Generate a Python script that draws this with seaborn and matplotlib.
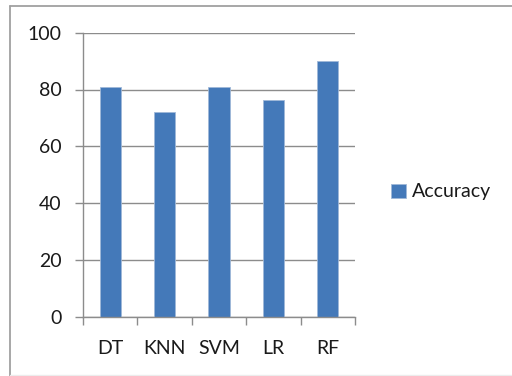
import matplotlib
matplotlib.use("Agg")
import matplotlib.pyplot as plt
from matplotlib.lines import Line2D
import seaborn as sns
import pandas as pd

models = ["DT", "KNN", "SVM", "LR", "RF"]
accuracy = [81, 72.2, 81, 76.3, 90]
y_ticks = [0, 20, 40, 60, 80, 100]

df = pd.DataFrame({"Model": models, "Accuracy": accuracy})

sns.set_theme(style="white")
plt.rcParams["font.family"] = ["Lato", "DejaVu Sans"]

grey = "#8c8c8c"
blue = "#4479b9"
text_col = "#1a1a1a"
fs = 14

fig = plt.figure(figsize=(5.12, 3.76), dpi=100)
ax = fig.add_axes([83 / 512, 59.3 / 376, 272 / 512, 284 / 376])

sns.barplot(data=df, x="Model", y="Accuracy", color=blue, width=0.39,
            saturation=1, label="Accuracy", ax=ax, edgecolor="#9fb8d8",
            linewidth=0.6)

ax.set_xlim(-0.5, len(models) - 0.5)
ax.set_ylim(0, 100)
ax.set_yticks(y_ticks)
ax.set_yticklabels([str(t) for t in y_ticks])
ax.set_xlabel("")
ax.set_ylabel("")

ax.yaxis.grid(True, color=grey, linewidth=1.0)
ax.set_axisbelow(True)
for side in ("top", "right"):
    ax.spines[side].set_visible(False)
for side in ("left", "bottom"):
    ax.spines[side].set_color(grey)
    ax.spines[side].set_linewidth(1.0)

ax.tick_params(axis="y", which="major", length=5.5, color=grey, width=1.0,
               labelsize=fs, labelcolor=text_col, pad=10, left=True)
ax.tick_params(axis="x", which="major", length=0, labelsize=fs,
               labelcolor=text_col, pad=16.5)
ax.set_xticks([i - 0.5 for i in range(len(models) + 1)], minor=True)
ax.tick_params(axis="x", which="minor", length=5.5, color=grey, width=1.0,
               bottom=True)

leg = ax.legend(loc="center left", bbox_to_anchor=(391 / 512, 1 - 192 / 376),
                bbox_transform=fig.transFigure, frameon=False, fontsize=fs,
                handlelength=0.75, handleheight=0.75, handletextpad=0.35,
                borderaxespad=0, borderpad=0)
for t in leg.get_texts():
    t.set_color(text_col)

# outer chart frame: left and top edges, faint bottom edge
fig.add_artist(Line2D([10 / 512, 10 / 512], [0, 1 - 6 / 376],
                      transform=fig.transFigure, color="#a0a0a0", lw=1.3))
fig.add_artist(Line2D([10 / 512, 1], [1 - 6 / 376, 1 - 6 / 376],
                      transform=fig.transFigure, color="#a0a0a0", lw=1.3))
fig.add_artist(Line2D([10 / 512, 1], [1 / 376, 1 / 376],
                      transform=fig.transFigure, color="#ececec", lw=1.0))

fig.savefig("out.png", dpi=100)
